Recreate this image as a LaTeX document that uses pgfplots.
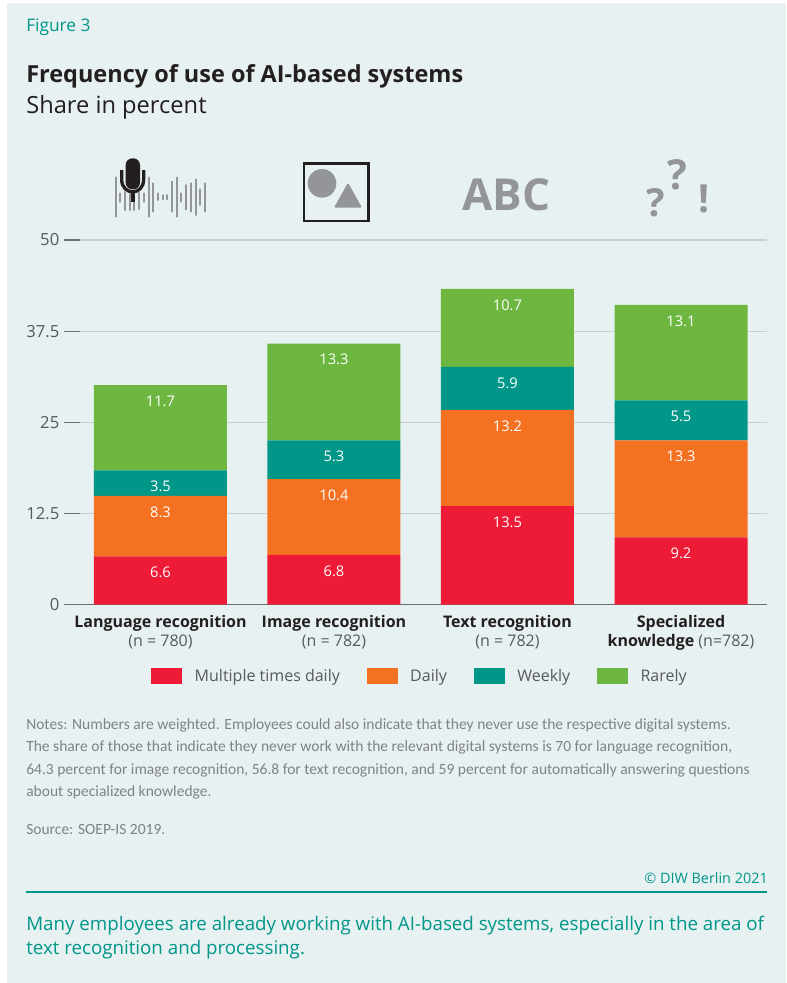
\documentclass[border=0pt]{standalone}
\usepackage{fontspec}
\setmainfont{Open Sans}
\newfontfamily\notesfont{Carlito}
\usepackage{pgfplots}
\pgfplotsset{compat=1.18}
\definecolor{panel}{HTML}{E7F1F2}
\definecolor{cRed}{HTML}{EE1B36}
\definecolor{cOrange}{HTML}{F47121}
\definecolor{cTeal}{HTML}{009688}
\definecolor{cGreen}{HTML}{6DB740}
\definecolor{dtxt}{HTML}{231F20}
\definecolor{gtxt}{HTML}{58595B}
\definecolor{ntxt}{HTML}{808285}
\definecolor{icon}{HTML}{939598}
\definecolor{gridc}{HTML}{C8CFD1}
\definecolor{darkline}{HTML}{6D6E71}
\begin{document}
% 1 unit = 1 pixel of the reference, y going down
\begin{tikzpicture}[x=0.75pt,y=-0.75pt]
\fill[white] (0,0) rectangle (787,983);
\fill[panel] (7,3) rectangle (786,983);

% header
\node[anchor=base west,inner sep=0,text=cTeal,font=\fontsize{13}{15}\selectfont] at (26,31) {Figure 3};
\node[anchor=base west,inner sep=0,text=dtxt,font=\fontsize{17.6}{20}\selectfont\bfseries] at (26,82) {Frequency of use of AI-based systems};
\node[anchor=base west,inner sep=0,text=dtxt,font=\fontsize{17.75}{20}\selectfont] at (26,113) {Share in percent};

% icons
\begin{scope}[shift={(60,140)},x=0.25pt,y=-0.25pt]
\foreach \x/\a/\b in {167/112/230,181/160/185,195/130/210,209/130/210,223/130/210,237/130/207,252/160/185,266/113/230,280/130/215,294/160/180,308/165/178,322/165/178,336/125/215,350/113/230,364/160/185,379/135/208,393/130/215,407/118/225,421/148/195,435/130/215}
  \draw[icon,line width=1.5pt,line cap=round] (\x,\a) -- (\x,\b);
\fill[panel] (178,85) -- (178,120) .. controls (178,175) and (258,175) .. (258,120) -- (258,85) -- cycle;
\draw[dtxt,line width=2.5pt] (185,90) -- (185,118) .. controls (185,168) and (251,168) .. (251,118) -- (251,90);
\draw[dtxt,line width=3pt] (218,155) -- (218,185);
\fill[dtxt,rounded corners=5pt] (197,55) rectangle (240,148);
% image icon
\draw[dtxt,line width=2pt] (732,70) rectangle (925,243);
\fill[icon] (786,130) circle[radius=43];
\fill[icon,rounded corners=1pt] (864,128) -- (906,203) -- (822,203) -- cycle;
\end{scope}
\node[anchor=base west,inner sep=0,text=icon,font=\fontsize{33}{35}\selectfont\bfseries] at (462,210.5) {ABC};
\node[anchor=base west,inner sep=0,text=icon,font=\fontsize{29}{32}\selectfont\bfseries] at (646,216) {?};
\node[anchor=base west,inner sep=0,text=icon,font=\fontsize{31}{34}\selectfont\bfseries] at (667,189) {?};
\node[anchor=base west,inner sep=0,text=icon,font=\fontsize{29}{32}\selectfont\bfseries] at (698,212) {!};

\begin{axis}[
    at={(48pt,-453.375pt)},anchor=south west,
    scale only axis,
    width=526.9pt,height=273.4pt,
    xmin=-0.556,xmax=3.493,
    ymin=0,ymax=50,
    ybar stacked,
    bar width=99.75pt,
    axis x line=bottom,
    axis y line=left,
    axis line style={-},
    y axis line style={draw=none},
    x axis line style={darkline,line width=1pt},
    axis on top=false,
    xtick=data,
    xticklabels={
      {\bfseries Language recognition\\\color{gtxt}(n = 780)},
      {\bfseries Image recognition\\\color{gtxt}(n = 782)},
      {\bfseries Text recognition\\\color{gtxt}(n = 782)},
      {\bfseries Specialized\\\bfseries knowledge \mdseries\color{gtxt}(n=782)}},
    xticklabel style={align=center,text=dtxt,font=\fontsize{12}{14}\selectfont,yshift=-4.5pt},
    x tick style={draw=none},
    ytick={0,12.5,25,37.5,50},
    yticklabel style={text=gtxt,font=\fontsize{12.5}{14}\selectfont,/pgf/number format/assume math mode=true,xshift=0pt},
    y tick style={darkline,line width=0.8pt},
    tick align=inside,
    major tick length=12pt,
    ymajorgrids,
    grid style={gridc,line width=0.8pt},
    nodes near coords,
    % stacked nodes sit mid-segment; the reference has them a fixed distance under the segment top
    visualization depends on={rawy\as\rawy},
    every node near coord/.append style={anchor=center,yshift={\rawy*2.734pt-12pt},text=white,font=\fontsize{11}{13}\selectfont,
      /pgf/number format/fixed,/pgf/number format/fixed zerofill,/pgf/number format/precision=1,/pgf/number format/assume math mode=true},
    legend columns=4,
    legend style={draw=none,fill=none,at={(0.507,-0.196)},anchor=center,
      font=\fontsize{12}{14}\selectfont,text=gtxt,
      /tikz/every even column/.append style={column sep=18pt},
      /tikz/every odd column/.append style={column sep=7.5pt}},
    legend image code/.code={\fill[#1] (0pt,-6pt) rectangle (23.25pt,6pt);},
]
\addplot[fill=cRed,draw=none] coordinates {(0,6.6) (1,6.8) (2,13.5) (3,9.2)};
\addplot[fill=cOrange,draw=none] coordinates {(0,8.3) (1,10.4) (2,13.2) (3,13.3)};
\addplot[fill=cTeal,draw=none] coordinates {(0,3.5) (1,5.3) (2,5.9) (3,5.5)};
\addplot[fill=cGreen,draw=none] coordinates {(0,11.7) (1,13.3) (2,10.7) (3,13.1)};
\legend{Multiple times daily,Daily,Weekly,Rarely}
\end{axis}

% notes
\begin{scope}[every node/.style={anchor=base west,inner sep=0,text=ntxt,font=\notesfont\fontsize{11.65}{13}\selectfont}]
\node at (26,729) {Notes: Numbers are weighted. Employees could also indicate that they never use the respective digital systems.};
\node at (26,751) {The share of those that indicate they never work with the relevant digital systems is 70 for language recognition,};
\node at (26,774) {64.3 percent for image recognition, 56.8 for text recognition, and 59 percent for automatically answering questions};
\node at (26,796) {about specialized knowledge.};
\node at (26,834) {Source: SOEP-IS 2019.};
\end{scope}

% footer
\node[anchor=base east,inner sep=0,text=cTeal,font=\fontsize{10.8}{12}\selectfont] at (768,883) {© DIW Berlin 2021};
\draw[cTeal,line width=0.9pt] (26,892) -- (767,892);
\node[anchor=base west,inner sep=0,text=cTeal,font=\fontsize{14.05}{16}\selectfont] at (26,930) {Many employees are already working with AI-based systems, especially in the area of};
\node[anchor=base west,inner sep=0,text=cTeal,font=\fontsize{14.05}{16}\selectfont] at (26,954) {text recognition and processing.};
\end{tikzpicture}
\end{document}
